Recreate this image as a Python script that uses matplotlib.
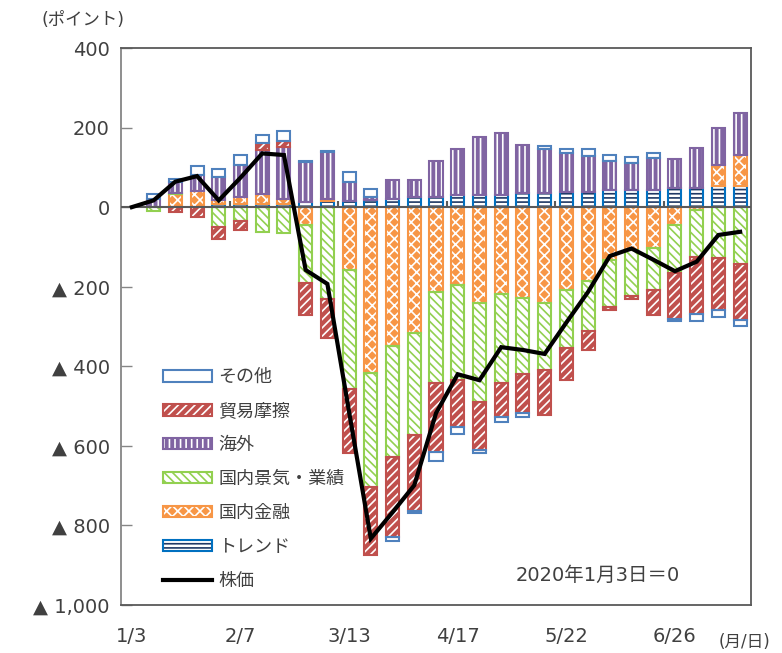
import numpy as np
import matplotlib.pyplot as plt
from matplotlib.patches import Patch
from matplotlib.legend_handler import HandlerTuple

plt.rcParams['font.family'] = ['DejaVu Sans', 'Noto Sans CJK JP']
plt.rcParams['hatch.linewidth'] = 1.2

# 週次（1/3～7/17）
dates = ['1/3', '1/10', '1/17', '1/24', '1/31', '2/7', '2/14', '2/21', '2/28', '3/6',
         '3/13', '3/20', '3/27', '4/3', '4/10', '4/17', '4/24', '5/1', '5/8', '5/15',
         '5/22', '5/29', '6/5', '6/12', '6/19', '6/26', '7/3', '7/10', '7/17']

# 要因分解（ポイント）
trend = [0, 0, 0, 0, 7, 7, 7, 7, 13, 15, 15, 18, 21, 25, 25, 31, 31, 31, 35, 35,
         38, 38, 44, 44, 44, 48, 49, 52, 52]
kinyu = [0, 0, 34, 41, 12, 18, 27, 14, -45, 6, -159, -417, -348, -316, -214, -196, -242, -219, -228, -242,
         -209, -186, -132, -108, -102, -45, -7, 53, 80]
keiki = [0, -10, 2, 0, -50, -34, -62, -65, -145, -230, -297, -286, -279, -257, -227, -239, -247, -224, -192, -168,
         -144, -125, -119, -115, -106, -120, -118, -129, -143]
kaigai = [0, 20, 28, 39, 57, 80, 109, 130, 100, 117, 48, 7, 48, 44, 92, 114, 145, 155, 122, 111,
          99, 90, 71, 67, 80, 74, 100, 95, 105]
boeki = [0, 0, -12, -24, -30, -23, 17, 14, -81, -100, -161, -172, -201, -191, -174, -117, -122, -85, -97, -113,
         -82, -49, -7, -8, -63, -115, -144, -130, -141]
sonota = [0, 12, 6, 23, 21, 25, 21, 26, 4, 3, 25, 20, -11, -5, -22, -17, -6, -13, -10, 8,
          8, 18, 15, 15, 11, -6, -17, -17, -15]
kabuka = [0, 17, 64, 78, 17, 74, 135, 131, -158, -193, -515, -833, -767, -699, -518, -420, -435, -352, -359, -369,
          -290, -213, -123, -104, -132, -161, -137, -70, -62]

yticks = [400, 200, 0, -200, -400, -600, -800, -1000]
ylabels = ['400', '200', '0', '▲ 200', '▲ 400', '▲ 600', '▲ 800', '▲ 1,000']

# (名前, 値, 塗り, ハッチ, ハッチ色, 枠線色)
series = [
    ('トレンド', trend, 'white', '----', '#1f3864', '#0070c0'),
    ('国内金融', kinyu, '#f79646', 'xxx', 'white', '#f79646'),
    ('国内景気・業績', keiki, 'white', '\\\\\\\\', '#92d050', '#92d050'),
    ('海外', kaigai, '#8064a2', '|||', 'white', '#8064a2'),
    ('貿易摩擦', boeki, '#c0504d', '////', 'white', '#c0504d'),
    ('その他', sonota, 'white', None, None, '#4f81bd'),
]

txt = '#404040'
fig = plt.figure(figsize=(7.82, 6.53), dpi=100)
ax = fig.add_axes([121 / 782, 48 / 653, 630 / 782, 557 / 653])

x = np.arange(len(dates))
w = 0.6
pos = np.zeros(len(x))
neg = np.zeros(len(x))
handles = {}
for name, vals, face, hatch, hcol, edge in series:
    v = np.array(vals, dtype=float)
    base = np.where(v >= 0, pos, neg)
    m = v != 0
    if hatch:
        ax.bar(x[m], v[m], w, bottom=base[m], color=face, edgecolor=hcol, hatch=hatch, lw=0, zorder=2)
    else:
        ax.bar(x[m], v[m], w, bottom=base[m], color=face, lw=0, zorder=2)
    ax.bar(x[m], v[m], w, bottom=base[m], facecolor='none', edgecolor=edge, lw=1.5, zorder=3)
    pos += np.where(v > 0, v, 0)
    neg += np.where(v < 0, v, 0)
    fill = Patch(facecolor=face, edgecolor=hcol if hatch else face, hatch=hatch, lw=0)
    frame = Patch(facecolor='none', edgecolor=edge, lw=1.5)
    handles[name] = (fill, frame)

line, = ax.plot(x, kabuka, color='black', lw=3, zorder=5, solid_joinstyle='miter')

# 0 ライン と 区切り目盛
ax.axhline(0, color='#595959', lw=1.5, zorder=4)
ax.vlines(np.arange(5, len(x), 5) - 0.5, 0, 16, color='#595959', lw=1.5, zorder=4)

ax.set_xlim(-0.5, len(x) - 0.5)
ax.set_ylim(-1000, 400)
ax.set_yticks(yticks)
ax.set_yticklabels(ylabels)
ax.set_xticks(x[::5])
ax.set_xticklabels(dates[::5])
ax.tick_params(axis='x', length=0, pad=16, labelsize=14, labelcolor=txt)
ax.tick_params(axis='y', direction='in', length=8, width=1, color='#868686', pad=8,
               labelsize=14, labelcolor=txt)
for s in ax.spines.values():
    s.set_color('#595959')
    s.set_linewidth(1.3)
ax.spines['left'].set_color('#868686')

order = ['その他', '貿易摩擦', '海外', '国内景気・業績', '国内金融', 'トレンド']
hs = [handles[k] for k in order] + [line]
ax.legend(hs, order + ['株価'], loc='upper left', bbox_to_anchor=(0.067, 0.425),
          frameon=False, fontsize=13, handlelength=2.7, handleheight=0.6,
          handletextpad=0.35, labelspacing=0.88, borderpad=0, borderaxespad=0,
          labelcolor=txt, handler_map={tuple: HandlerTuple(ndivide=1, pad=0)})

ax.text(0.756, 0.054, '2020年1月3日＝0', transform=ax.transAxes, ha='center', va='center',
        fontsize=14, color=txt)
fig.text(83 / 782, 1 - 20 / 653, '(ポイント)', ha='center', va='center', fontsize=12.5, color=txt)
fig.text(745 / 782, 1 - 642 / 653, '(月/日)', ha='center', va='center', fontsize=12, color=txt)

fig.savefig('out.png', dpi=100)
